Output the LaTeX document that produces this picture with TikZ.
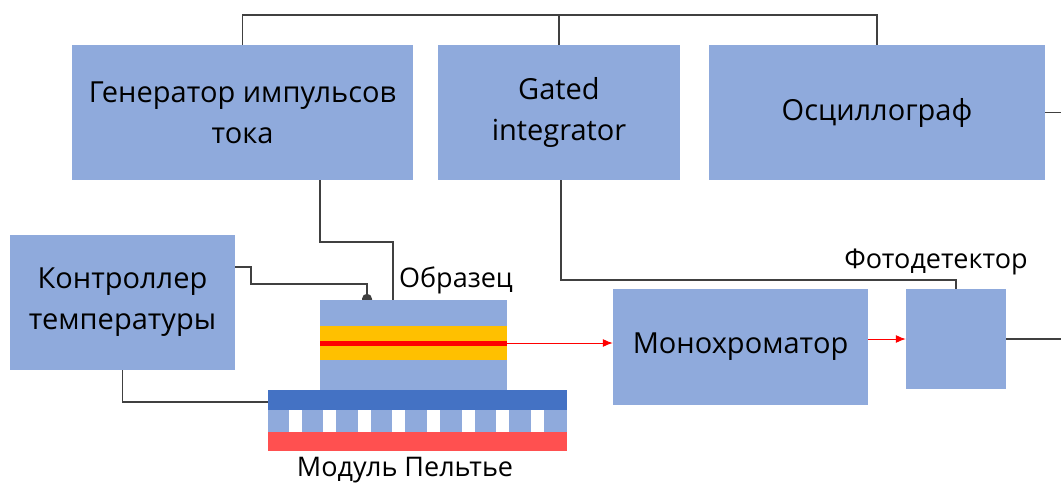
\documentclass[tikz,border=0pt]{standalone}
\usepackage{fontspec}
\setmainfont{Open Sans}
\usetikzlibrary{arrows,arrows.meta}

\definecolor{boxblue}{HTML}{8FAADC}
\definecolor{darkblue}{HTML}{4472C4}
\definecolor{amber}{HTML}{FFC000}
\definecolor{hotred}{HTML}{FF5050}
\definecolor{wiregray}{HTML}{404040}

\tikzset{
  block/.style={fill=boxblue, inner sep=0pt, align=center,
    font=\fontsize{29}{41}\selectfont},
  wire/.style={draw=wiregray, line width=1.5pt},
  beam/.style={draw=red, line width=1pt, arrows={-Latex[length=10pt,width=8pt]}},
  caption/.style={font=\fontsize{27}{32}\selectfont}
}

\begin{document}
\begin{tikzpicture}[x=1pt, y=-1pt]
\useasboundingbox (0,0) rectangle (1061,485);

% instruments
\node[block, minimum width=341pt, minimum height=135pt] at (242.5,112.5) (generator) {Генератор импульсов\\тока};
\node[block, minimum width=242pt, minimum height=135pt] at (559,112.5) (gated) {Gated\\integrator};
\node[block, minimum width=336pt, minimum height=135pt] at (877,112.5) (scope) {Осциллограф};
\node[block, minimum width=225pt, minimum height=135pt] at (122.5,302.5) (controller) {Контроллер\\температуры};
\node[block, minimum width=255pt, minimum height=116pt] at (740.5,347) (mono) {Монохроматор};
\node[block, minimum width=100pt, minimum height=100pt] at (956,339) (detector) {};

% sample with its active layer
\node[block, minimum width=187pt, minimum height=90pt] at (413.5,345) (sample) {};
\node[fill=amber, inner sep=0pt, minimum width=187pt, minimum height=34pt] at (413.5,343) (layer) {};
\node[fill=red, inner sep=0pt, minimum width=187pt, minimum height=5pt] at (413.5,343) (junction) {};

% Peltier module
\node[fill=darkblue, inner sep=0pt, minimum width=299pt, minimum height=20pt] at (417.5,400) (plate) {};
\node[fill=boxblue, inner sep=0pt, minimum width=299pt, minimum height=22pt] at (417.5,421) (legs) {};
\node[fill=hotred, inner sep=0pt, minimum width=299pt, minimum height=19pt] at (417.5,441.5) (sink) {};
\foreach \i in {0,...,7}
  \fill[white] (288.5+34.6*\i,410) rectangle ++(13,22);

% labels
\node[caption] at (456,280) (samplelabel) {Образец};
\node[caption] at (936,262) (detlabel) {Фотодетектор};
\node[caption] at (405,470) (peltierlabel) {Модуль Пельтье};

% signal wiring
\draw[wire] (generator.north) -- ++(0,-30) -| (scope.north);
\draw[wire] (gated.north) -- ++(0,-30);
\draw[wire] ([xshift=77.5pt]generator.south) -- ++(0,62) -| ([xshift=-20.5pt]sample.north);
\draw[wire] ([xshift=2pt]gated.south) |- ([yshift=9pt]detector.north) -- (detector.north);
\draw[wire] ([yshift=35.5pt]controller.east) -- ++(16,0) |- ([xshift=-46.5pt,yshift=16pt]sample.north)
  -- ([xshift=-46.5pt]sample.north);
\fill[wiregray] ([xshift=-51.5pt]sample.north) -- ++(0,-1) arc[start angle=180, end angle=0, radius=5pt] -- ++(0,1) -- cycle;
\draw[wire] (controller.south) |- ([yshift=-2pt]plate.west);
\draw[wire] (detector.east) -- ++(55,0);
\draw[wire] (scope.east) -- ++(16,0);

% light path
\draw[beam] (junction.east) -- (mono.west |- junction.east);
\draw[beam] (mono.east |- detector.west) -- (detector.west);
\end{tikzpicture}
\end{document}
